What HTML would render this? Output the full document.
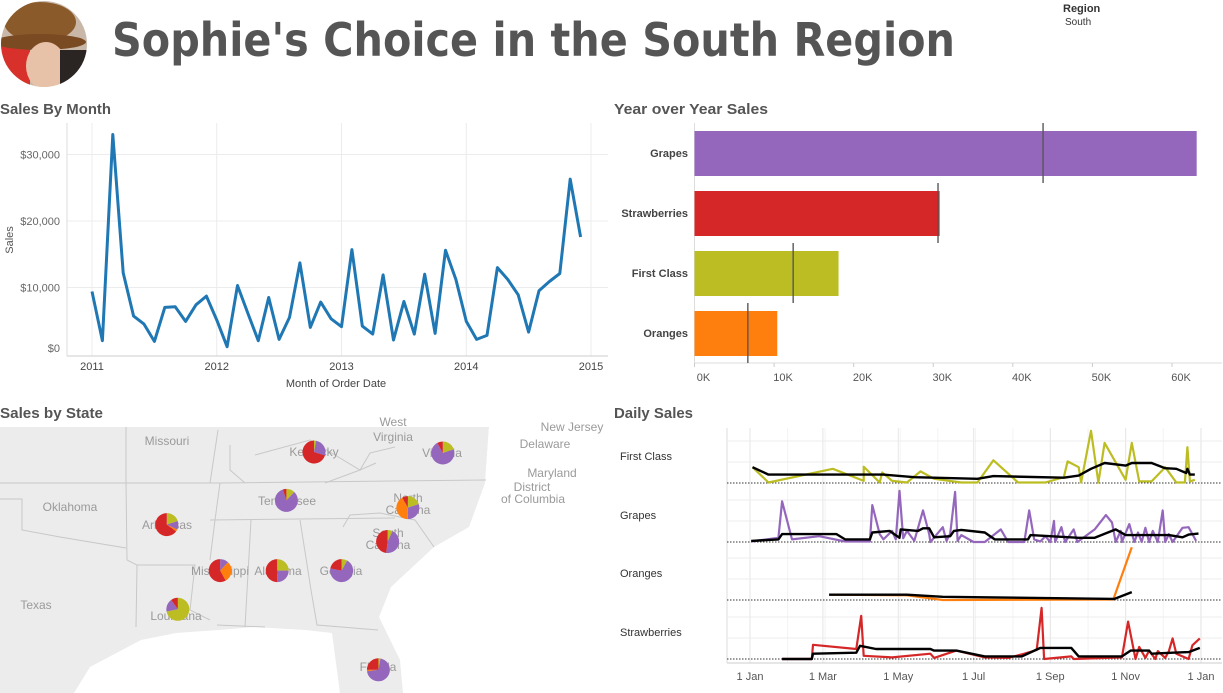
<!DOCTYPE html>
<html><head><meta charset="utf-8">
<style>
html,body{margin:0;padding:0;background:#fff;}
svg{display:block;font-family:"Liberation Sans",sans-serif;}
</style></head>
<body>
<svg id="dash" width="1223" height="693" viewBox="0 0 1223 693" xmlns="http://www.w3.org/2000/svg">
  <defs><clipPath id="photoClip"><circle cx="44" cy="44" r="43"/></clipPath></defs>
  <g clip-path="url(#photoClip)">
    <rect x="0" y="0" width="90" height="90" fill="#c9b8a8"/>
    <rect x="0" y="45" width="30" height="45" fill="#d8312c"/>
    <ellipse cx="40" cy="22" rx="36" ry="20" fill="#8b5a2b"/>
    <ellipse cx="40" cy="42" rx="46" ry="8" fill="#7a4a22"/>
    <ellipse cx="46" cy="66" rx="20" ry="24" fill="#e8c2a8"/>
    <rect x="60" y="50" width="30" height="40" fill="#2a2523"/>
  </g>
  <text x="112" y="56" font-family="'DejaVu Sans',sans-serif" font-weight="bold" font-size="46" fill="#555" textLength="843" lengthAdjust="spacingAndGlyphs">Sophie's Choice in the South Region</text>
  <text x="1063" y="12" font-size="11" font-weight="bold" fill="#333">Region</text>
  <text x="1065" y="25" font-size="10" fill="#333">South</text>

  <text x="0" y="114" font-size="15" font-weight="bold" fill="#555" textLength="111" lengthAdjust="spacingAndGlyphs">Sales By Month</text>
  <text x="614" y="114" font-size="15" font-weight="bold" fill="#555" textLength="154" lengthAdjust="spacingAndGlyphs">Year over Year Sales</text>
  <text x="0" y="418" font-size="15" font-weight="bold" fill="#555" textLength="103" lengthAdjust="spacingAndGlyphs">Sales by State</text>
  <text x="614" y="418" font-size="15" font-weight="bold" fill="#555" textLength="79" lengthAdjust="spacingAndGlyphs">Daily Sales</text>

  <g id="lineChart"></g>
  <g id="barChart"></g>
  <g id="mapChart"></g>
  <g id="dailyChart"></g>
</svg>
<script>
// ===== Sales by Month data =====
const monthYears = ["2011","2012","2013","2014","2015"];
const monthlySalesK = [
 9.4,2.0,33,12.2,5.7,4.5,1.9,7.0,7.1,4.9,7.4,8.7,
 5.1,1.1,10.3,6.1,2.0,8.5,2.2,5.5,13.7,4.0,7.8,5.3,
 4.1,15.7,4.2,3.0,11.9,2.1,7.9,3.0,12.0,3.1,15.6,11.2,
 4.9,2.2,2.8,13.0,11.2,8.9,3.3,9.5,10.9,12.1,26.3,17.6];
const salesTicksK = [0,10,20,30];
const salesTickLabels = ["$0","$10,000","$20,000","$30,000"];

// ===== Year over Year data =====
const products = ["Grapes","Strawberries","First Class","Oranges"];
const productSalesK = [63.1,30.8,18.1,10.4];
const priorYearK = [43.8,30.6,12.4,6.7];
const barTicksK = [0,10,20,30,40,50,60];
const barTickLabels = ["0K","10K","20K","30K","40K","50K","60K"];

// ===== Map data =====
const stateNames = ["Kentucky","Virginia","Tennessee","North Carolina","Arkansas","South Carolina","Mississippi","Alabama","Georgia","Louisiana","Florida"];
const stateLon = [-85.3,-78.3,-86.8,-80.2,-93.3,-81.3,-90.4,-87.3,-83.8,-92.7,-81.8];
const stateLat = [37.5,37.46,35.5,35.2,34.5,33.8,32.6,32.6,32.6,31.0,28.5];
// shares: olive (First Class), purple (Grapes), orange (Oranges), red (Strawberries)
const shareFirstClass  = [0.03,0.20,0.12,0.20,0.20,0.07,0.00,0.25,0.08,0.72,0.03];
const shareGrapes      = [0.27,0.72,0.83,0.30,0.12,0.45,0.12,0.25,0.70,0.18,0.70];
const shareOranges     = [0.00,0.00,0.00,0.42,0.03,0.00,0.30,0.00,0.00,0.00,0.02];
const shareStrawberries= [0.70,0.08,0.05,0.08,0.65,0.48,0.58,0.50,0.22,0.10,0.25];

// ===== Daily Sales data (day of year, % of panel max) =====
const dailyMonths = ["1 Jan","1 Mar","1 May","1 Jul","1 Sep","1 Nov","1 Jan"];
const dailyMonthDays = [0,59,120,181,243,304,365];
const fcDays = [2,15,67,92,92,105,107,115,127,138,149,171,184,197,217,239,254,257,266,268,276,282,287,304,309,315,325,336,345,352,354,356,360];
const fcVals = [30,1,27,4,31,1,20,4,1,22,8,1,1,43,1,1,11,41,30,1,99,1,76,6,76,3,3,30,1,1,68,3,6];
const fcAvgDays = [2,15,92,108,133,184,197,254,266,276,287,304,309,325,336,345,353,354,356,360];
const fcAvgVals = [30,16,16,16,11,8,13,10,14,27,38,33,38,38,28,27,19,27,16,16];
const grDays = [1,23,26,34,56,77,97,99,105,108,115,118,121,124,127,133,140,145,146,156,159,162,166,168,171,181,190,203,209,222,226,230,235,239,243,246,247,252,255,262,265,279,288,293,296,300,301,307,311,314,317,320,323,326,330,334,336,339,342,350,355,358,361];
const grVals = [1,8,77,5,11,1,1,70,15,5,21,5,97,7,21,2,60,15,0,28,2,16,95,2,13,0,0,24,0,0,60,5,1,11,0,40,0,28,0,24,0,24,51,37,0,21,0,34,0,18,0,27,0,21,0,60,0,15,0,27,28,15,2];
const grAvgDays = [1,23,26,70,77,97,99,113,121,122,136,140,145,149,162,165,171,190,198,225,227,266,279,296,304,339,350,355,363];
const grAvgVals = [2,5,15,15,5,5,18,21,8,24,21,26,26,9,11,21,23,18,5,5,13,8,8,24,13,13,9,14,16];
const orDays = [64,127,156,294,309];
const orVals = [10,9,0,1,100];
const orAvgDays = [64,127,156,295,309];
const orAvgVals = [10,10,6,2,15];
const stDays = [26,50,51,86,90,92,115,146,149,167,190,209,222,232,236,238,260,262,301,306,312,315,320,323,328,330,336,339,342,345,355,358,364];
const stVals = [0,0,27,19,82,6,3,10,2,16,3,2,10,17,97,0,5,0,3,71,0,23,2,16,0,15,2,15,39,10,0,26,39];
const stAvgDays = [26,50,51,86,89,102,146,149,167,190,220,235,260,266,301,308,323,325,342,355,364];
const stAvgVals = [0,0,10,12,25,19,19,16,16,5,5,21,21,5,5,16,16,10,12,13,21];

const NS = "http://www.w3.org/2000/svg";
function mk(parent, tag, attrs, text){
  const e = document.createElementNS(NS, tag);
  for (const k in attrs) e.setAttribute(k, attrs[k]);
  if (text !== undefined) e.textContent = text;
  parent.appendChild(e);
  return e;
}

// ---------- Line chart ----------
(function(){
  const g = document.getElementById('lineChart');
  const x0 = 92, yearW = 124.75, y0 = 354, kPx = 6.65;
  const xs = i => x0 + i * yearW / 12;
  const ys = v => y0 - v * kPx;
  salesTicksK.forEach((t,i)=>{
    if (t>0){ const l = mk(g,'line',{x1:67,x2:608,y1:ys(t),y2:ys(t),stroke:'#ececec'});
        }
    const tx = mk(g,'text',{x:60,y:ys(t)+4-(t===0?6:0),'text-anchor':'end','font-size':11,fill:'#666'},salesTickLabels[i]);
     
  });
  monthYears.forEach((yr,i)=>{
    const x = x0 + i*yearW;
    const l = mk(g,'line',{x1:x,x2:x,y1:123,y2:356,stroke:'#ececec'});
     
    const t = mk(g,'text',{x:x,y:370,'text-anchor':'middle','font-size':11,fill:'#444'},yr);
     
  });
  const ax = mk(g,'line',{x1:67,x2:608,y1:356,y2:356,stroke:'#ccc'});
   
  const ay = mk(g,'line',{x1:67,x2:67,y1:123,y2:356,stroke:'#ddd'});
   
  const yt = mk(g,'text',{x:13,y:240,'text-anchor':'middle','font-size':11,fill:'#555',transform:'rotate(-90 13 240)'},'Sales');
   
  const xt = mk(g,'text',{x:336,y:387,'text-anchor':'middle','font-size':11,fill:'#444'},'Month of Order Date');
   
  const pts = monthlySalesK.map((v,i)=>xs(i).toFixed(1)+','+ys(v).toFixed(1)).join(' ');
  const pl = mk(g,'polyline',{points:pts,fill:'none',stroke:'#1f77b4','stroke-width':3,'stroke-linejoin':'round'});
   
})();

// ---------- Bar chart ----------
(function(){
  const g = document.getElementById('barChart');
  const x0 = 694.5, kPx = (1172-694.5)/60;
  const xs = v => x0 + v*kPx;
  const colors = ['#9467bd','#d62728','#bcbd22','#ff7f0e'];
  const ay = mk(g,'line',{x1:x0,x2:x0,y1:123,y2:363,stroke:'#ddd'});
   
  const ax = mk(g,'line',{x1:x0,x2:1222,y1:363,y2:363,stroke:'#ddd'});
   
  barTicksK.forEach((t,i)=>{
    const tk = mk(g,'line',{x1:xs(t),x2:xs(t),y1:363,y2:367,stroke:'#ccc'});
     
    const tx = mk(g,'text',{x:xs(t)+9,y:381,'text-anchor':'middle','font-size':11,fill:'#555'},barTickLabels[i]);
     
  });
  products.forEach((p,i)=>{
    const top = 131 + i*60;
    const r = mk(g,'rect',{x:x0,y:top,width:xs(productSalesK[i])-x0,height:45,fill:colors[i]});
     
    const rl = mk(g,'line',{x1:xs(priorYearK[i]),x2:xs(priorYearK[i]),y1:top-8,y2:top+52,stroke:'#555','stroke-width':1.6,'stroke-opacity':0.85});
     
    const lb = mk(g,'text',{x:688,y:top+26,'text-anchor':'end','font-size':11,'font-weight':'bold',fill:'#444'},p);
     
  });
})();

// ---------- Map ----------
(function(){
  const g = document.getElementById('mapChart');
  const bg = mk(g,'rect',{x:0,y:427,width:610,height:266,fill:'#fff'});
   
  const land = mk(g,'path',{d:'M0 427 L610 427 L610 440 L520 427 L489 427 L485 483 L469 527 L434 547 L391 587 L379 617 L400 660 L403 693 L340 693 L332 633 L305 630 L254 627 L219 630 L176 633 L141 640 L90 667 L74 693 L0 693 Z',fill:'#ececec'});
   
  const ne = mk(g,'path',{d:'M489 427 L610 427 L610 470 L540 480 L510 500 L485 483 Z',fill:'#fff'});
   
  const borders = [
    'M126 427 L126 483 L0 483','M126 483 L127 560 L137 565 L136 627','M0 499 L22 499 L22 530 L60 537 L126 548',
    'M126 483 L220 483 L215 520 L210 560','M137 565 L195 565 L190 610 L210 620','M220 483 L486 480',
    'M210 520 L395 518','M251 520 L245 627','M300 520 L311 590 L317 625 L378 630',
    'M230 445 L230 470 L245 483','M255 455 L310 440 L360 470 L370 453 L395 447','M325 483 L360 470 L376 463',
    'M343 527 L350 515 L380 513 L415 520 L434 547','M265 627 L217 625','M210 483 L218 430'];
  borders.forEach(d=>{ const p = mk(g,'path',{d:d,fill:'none',stroke:'#c8c8c8','stroke-width':1});
      });
  const labels = [['Missouri',167,445],['Oklahoma',70,511],['Texas',36,609],['Arkansas',167,529],['Kentucky',314,456],['West',393,426],['Virginia',393,441],['Virginia',442,457],['Tennessee',287,505],['North',408,502],['Carolina',408,514],['South',388,537],['Carolina',388,549],['Mississippi',220,575],['Alabama',278,575],['Georgia',341,575],['Louisiana',176,620],['Florida',378,671],['New Jersey',572,431],['Delaware',545,448],['Maryland',552,477],['District',532,491],['of Columbia',533,503]];
  labels.forEach(l=>{ const t = mk(g,'text',{x:l[1],y:l[2],'text-anchor':'middle','font-size':12,fill:'#9a9a9a'},l[0]);
      });
  const lx = lon => 314 + (lon + 85.3) * 18.4;
  const ly = lat => 452 + (37.5 - lat) * 24.2;
  const sliceColors = ['#bcbd22','#9467bd','#ff7f0e','#d62728'];
  stateNames.forEach((s,i)=>{
    const cx = lx(stateLon[i]), cy = ly(stateLat[i]), r = 11.5;
    const shares = [shareFirstClass[i],shareGrapes[i],shareOranges[i],shareStrawberries[i]];
    const tot = shares.reduce((a,b)=>a+b,0);
    let a0 = -Math.PI/2;
    const pg = mk(g,'g',{});
     
    shares.forEach((v,k)=>{
      if (v<=0) return;
      const a1 = a0 + v/tot*2*Math.PI;
      const large = (a1-a0)>Math.PI?1:0;
      const d = `M${cx} ${cy} L${cx+r*Math.cos(a0)} ${cy+r*Math.sin(a0)} A${r} ${r} 0 ${large} 1 ${cx+r*Math.cos(a1)} ${cy+r*Math.sin(a1)} Z`;
      const sl = mk(pg,'path',{d:d,fill:sliceColors[k]});
       
      a0 = a1;
    });
  });
})();

// ---------- Daily Sales ----------
(function(){
  const g = document.getElementById('dailyChart');
  const x0 = 750, dayPx = 451/365;
  const xs = d => x0 + d*dayPx;
  const panelH = 52.7;
  const baselines = [483,542,600,659];
  const names = ['First Class','Grapes','Oranges','Strawberries'];
  const cols = ['#bcbd22','#9467bd','#ff7f0e','#d62728'];
  const series = [[fcDays,fcVals,fcAvgDays,fcAvgVals],[grDays,grVals,grAvgDays,grAvgVals],[orDays,orVals,orAvgDays,orAvgVals],[stDays,stVals,stAvgDays,stAvgVals]];
  for (let d=0; d<=365; d+=30.4){
    const l = mk(g,'line',{x1:xs(d),x2:xs(d),y1:428,y2:663,stroke:'#f3f3f3'});
     
  }
  dailyMonthDays.forEach((d,i)=>{
    const l = mk(g,'line',{x1:xs(d),x2:xs(d),y1:428,y2:663,stroke:'#e6e6e6'});
     
    const t = mk(g,'text',{x:xs(d),y:680,'text-anchor':'middle','font-size':11,fill:'#555'},dailyMonths[i]);
     
  });
  const ax = mk(g,'line',{x1:727,x2:1222,y1:663,y2:663,stroke:'#ccc'});
   
  const ay = mk(g,'line',{x1:727,x2:727,y1:428,y2:663,stroke:'#ddd'});
   
  names.forEach((n,i)=>{
    const b = baselines[i];
    [21,42].forEach(o=>{ const l = mk(g,'line',{x1:727,x2:1222,y1:b-o,y2:b-o,stroke:'#ececec'});
        });
    const zl = mk(g,'line',{x1:727,x2:1222,y1:b,y2:b,stroke:'#333','stroke-dasharray':'1.5 1.5','stroke-width':1});
     
    const lb = mk(g,'text',{x:620,y:b-23,'font-size':11,fill:'#333'},n);
     
    const s = series[i];
    const ys = v => b - v/100*panelH;
    const p1 = s[0].map((d,k)=>xs(d).toFixed(1)+','+ys(s[1][k]).toFixed(1)).join(' ');
    const line = mk(g,'polyline',{points:p1,fill:'none',stroke:cols[i],'stroke-width':2.2,'stroke-linejoin':'round'});
     
    const p2 = s[2].map((d,k)=>xs(d).toFixed(1)+','+ys(s[3][k]).toFixed(1)).join(' ');
    const avg = mk(g,'polyline',{points:p2,fill:'none',stroke:'#000','stroke-width':2.4,'stroke-linejoin':'round'});
     
  });
})();
</script>
</body></html>
